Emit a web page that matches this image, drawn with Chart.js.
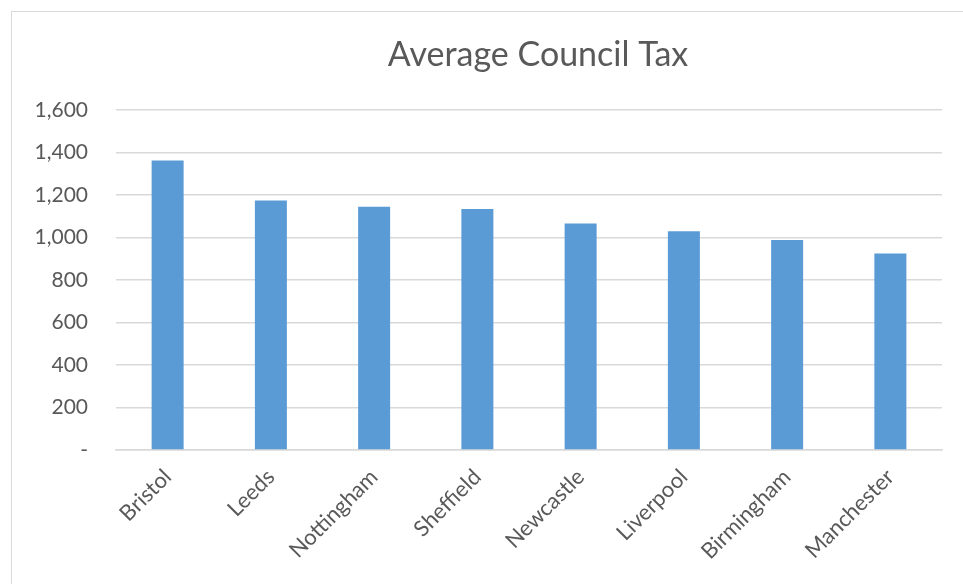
<!DOCTYPE html>
<html>
<head>
<meta charset="utf-8">
<script src="https://cdn.jsdelivr.net/npm/chart.js@4"></script>
<style>
  body { margin: 0; background: #fff; }
  #frame {
    position: absolute; left: 11px; top: 11px; width: 1000px; height: 600px;
    border-left: 1.5px solid #d9d9d9; border-top: 1.5px solid #d9d9d9;
  }
  #chart { position: absolute; left: 0; top: 0; }
</style>
</head>
<body>
<div id="frame"></div>
<canvas id="chart" width="963" height="584"></canvas>
<script>
const cities = ["Bristol", "Leeds", "Nottingham", "Sheffield", "Newcastle", "Liverpool", "Birmingham", "Manchester"];
const councilTax = [1362, 1173, 1144, 1134, 1065, 1029, 988, 924];
const yTicks = [0, 200, 400, 600, 800, 1000, 1200, 1400, 1600];

const textColor = "#595959";
const gridColor = "#d9d9d9";

// nudge the title a little right, like the original sits
const titleShift = {
  id: "titleShift",
  afterLayout(chart) {
    if (chart.titleBlock) {
      chart.titleBlock.left += 9;
      chart.titleBlock.right += 9;
    }
  },
};

const ctx = document.getElementById("chart").getContext("2d");

new Chart(ctx, {
  type: "bar",
  data: {
    labels: cities,
    datasets: [
      {
        label: "Average Council Tax",
        data: councilTax,
        backgroundColor: "#5b9bd5",
        borderWidth: 0,
        categoryPercentage: 1,
        barPercentage: 0.31,
      },
    ],
  },
  plugins: [titleShift],
  options: {
    responsive: false,
    animation: false,
    layout: { padding: { right: 21 } },
    plugins: {
      legend: { display: false },
      tooltip: { enabled: false },
      title: {
        display: true,
        text: "Average Council Tax",
        fullSize: false,
        color: textColor,
        font: { family: "Lato", size: 34, weight: "normal" },
        padding: { top: 35, bottom: 34 },
      },
    },
    scales: {
      x: {
        grid: { display: false, drawTicks: false },
        border: { display: true, color: gridColor, width: 1.5 },
        ticks: {
          color: textColor,
          font: { family: "Lato", size: 22 },
          minRotation: 45,
          maxRotation: 45,
          padding: 14,
        },
        afterFit: (scale) => {
          scale.height = 134;
        },
      },
      y: {
        min: 0,
        max: 1600,
        grid: { color: gridColor, lineWidth: 1.5, drawTicks: false },
        border: { display: false },
        ticks: {
          stepSize: 200,
          color: textColor,
          font: { family: "Lato", size: 21 },
          padding: 28,
          callback: (value) => (value === 0 ? "-" : value.toLocaleString("en-US")),
        },
        afterBuildTicks: (scale) => {
          scale.ticks = yTicks.map((v) => ({ value: v }));
        },
        afterFit: (scale) => {
          scale.width = 116;
        },
      },
    },
  },
});
</script>
</body>
</html>
